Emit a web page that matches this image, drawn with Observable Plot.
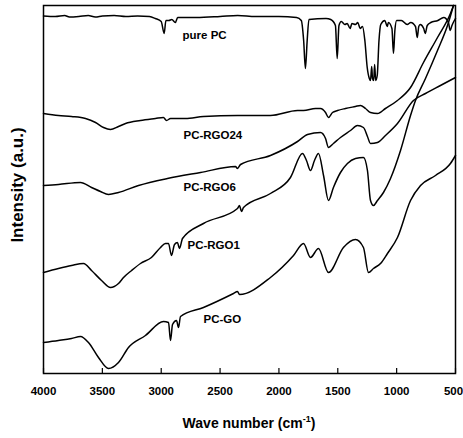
<!DOCTYPE html>
<html><head><meta charset="utf-8">
<script src="https://cdn.jsdelivr.net/npm/d3@7"></script>
<script src="https://cdn.jsdelivr.net/npm/@observablehq/plot@0.6"></script>
<style>body{margin:0;background:#fff}</style>
</head><body><div id="chart"></div><script>
// wavenumber (cm-1), intensity (a.u., offset spectra)
const purePC = [[4000,357.5],[3900,357],[3820,358],[3780,356.5],[3700,357],[3620,358],[3560,356.5],[3500,357.5],[3400,358],[3300,357],[3200,357.5],[3100,357],[3050,355],[3000,352],[2975,340],[2960,353],[2935,353],[2910,354],[2880,351],[2860,356],[2700,356],[2500,357],[2350,358],[2200,357],[2000,357],[1850,356],[1810,353],[1790,333],[1775,305],[1760,333],[1745,354],[1600,355],[1560,354],[1520,348],[1505,315],[1490,348],[1470,352],[1440,349],[1420,350],[1395,345],[1380,350],[1350,349],[1330,351],[1310,345],[1290,347],[1270,333],[1250,306],[1232,295],[1222,293],[1212,307],[1205,295],[1195,293],[1187,309],[1178,293],[1165,298],[1150,333],[1135,349],[1100,353],[1080,347],[1070,351],[1040,345],[1027,320],[1015,343],[1000,353],[960,353],[910,349],[880,351],[840,347],[825,336],[812,347],[800,349],[770,345],[757,340],[740,348],[710,351],[650,353],[600,356],[560,351],[545,343],[530,348],[510,353],[500,355]];
const pcRGO24 = [[4000,260],[3873,258],[3762,257],[3643,255],[3558,251],[3490,246],[3431,244],[3363,247],[3303,250],[3176,253],[3049,255],[2981,256],[2955,253],[2921,255],[2794,255],[2641,257],[2352,258],[2072,258],[1842,263],[1791,263],[1689,265],[1647,265],[1604,261],[1579,256],[1545,261],[1502,263],[1435,265],[1350,267],[1307,268],[1265,265],[1222,261],[1163,260],[1095,265],[993,273],[882,286],[772,311],[653,336],[543,360],[517,368]];
const pcRGO6 = [[4000,188],[3873,189],[3686,191],[3592,186],[3516,182],[3448,179],[3363,181],[3193,188],[2947,195],[2666,201],[2369,207],[2352,205],[2326,209],[2072,218],[1842,232],[1757,239],[1647,241],[1604,235],[1579,226],[1537,230],[1477,236],[1392,243],[1333,248],[1282,246],[1248,237],[1222,230],[1163,231],[1095,238],[993,250],[857,273],[755,280],[628,288],[500,296]];
const pcRGO1 = [[4000,101],[3873,105],[3762,108],[3660,110],[3592,103],[3507,93],[3431,86],[3363,90],[3320,96],[3252,103],[3176,110],[3083,116],[3006,126],[2964,130],[2938,130],[2913,118],[2887,129],[2862,131],[2845,125],[2819,135],[2641,150],[2352,165],[2335,168],[2318,162],[2301,166],[2072,180],[1902,196],[1800,220],[1766,213],[1732,203],[1698,213],[1664,220],[1621,198],[1579,173],[1537,186],[1477,201],[1418,210],[1350,215],[1282,216],[1248,203],[1222,173],[1197,168],[1163,173],[1112,181],[1052,195],[967,223],[882,258],[840,273],[755,295],[653,323],[568,348],[517,368]];
const pcGO = [[4000,31],[3873,33],[3762,35],[3686,37],[3618,31],[3533,16],[3448,5],[3363,11],[3278,26],[3134,38],[2981,52],[2938,51],[2921,33],[2904,49],[2870,53],[2853,46],[2836,57],[2641,66],[2386,80],[2352,82],[2335,79],[2072,96],[1876,118],[1791,130],[1732,116],[1664,125],[1579,101],[1452,126],[1350,134],[1282,126],[1239,101],[1197,105],[1137,110],[1078,120],[993,136],[882,173],[797,188],[670,198],[543,210],[500,218]];

const seriesNames = ["pure PC","PC-RGO24","PC-RGO6","PC-RGO1","PC-GO"];
const seriesData = [purePC, pcRGO24, pcRGO6, pcRGO1, pcGO];
// label anchor positions (wavenumber, intensity)
const labelWn = [2819, 2811, 2811, 2777, 2641];
const labelV = [338, 238, 186, 128, 54];
const xTicks = [4000,3500,3000,2500,2000,1500,1000,500];

const rows = seriesData.flatMap((pts, i) => pts.map(([wn, v]) => ({series: seriesNames[i], wn, v})));
const labels = seriesNames.map((name, i) => ({name, wn: labelWn[i], v: labelV[i]}));

const font = "'Liberation Sans', Arial, sans-serif";
const plot = Plot.plot({
  width: 463, height: 438,
  marginLeft: 43, marginRight: 8, marginTop: 5, marginBottom: 65,
  style: {fontFamily: font, background: "#fff", color: "#000"},
  x: {domain: [4000, 500]},
  y: {domain: [0, 368], axis: null},
  marks: [
    Plot.line(rows, {x: "wn", y: "v", z: "series", stroke: "#000", strokeWidth: 1.5, strokeLinejoin: "round", curve: "monotone-x"}),
    Plot.ruleX(xTicks, {x: d => d, y1: 0, y2: 5, stroke: "#000", strokeWidth: 1.2}),
    Plot.axisX(xTicks.slice(0, -1), {tickSize: 0, tickPadding: 13, fontSize: 11.5, fontWeight: "bold", label: null, tickFormat: d => String(d)}),
    Plot.axisX(xTicks.slice(-1), {tickSize: 0, tickPadding: 13, fontSize: 11.5, fontWeight: "bold", label: null, dx: -2, tickFormat: d => String(d)}),
    Plot.text(labels, {x: "wn", y: "v", text: "name", textAnchor: "start", fontSize: 11.5, fontWeight: "bold", fill: "#000"}),
    Plot.frame({stroke: "#000", strokeWidth: 1.5})
  ]
});
document.getElementById("chart").appendChild(plot);
const svg = d3.select(plot);
const xt = svg.append("text").attr("x", 249).attr("y", 428).attr("text-anchor", "middle")
  .attr("font-family", font).attr("font-weight", "bold").attr("font-size", 14).attr("fill", "#000");
xt.append("tspan").text("Wave number (cm");
xt.append("tspan").attr("dy", -6).attr("font-size", 9).text("-1");
xt.append("tspan").attr("dy", 6).text(")");
svg.append("text").attr("transform", "translate(23,185) rotate(-90)").attr("text-anchor", "middle")
  .attr("font-family", font).attr("font-weight", "bold").attr("font-size", 17).attr("fill", "#000")
  .text("Intensity (a.u.)");
</script></body></html>
